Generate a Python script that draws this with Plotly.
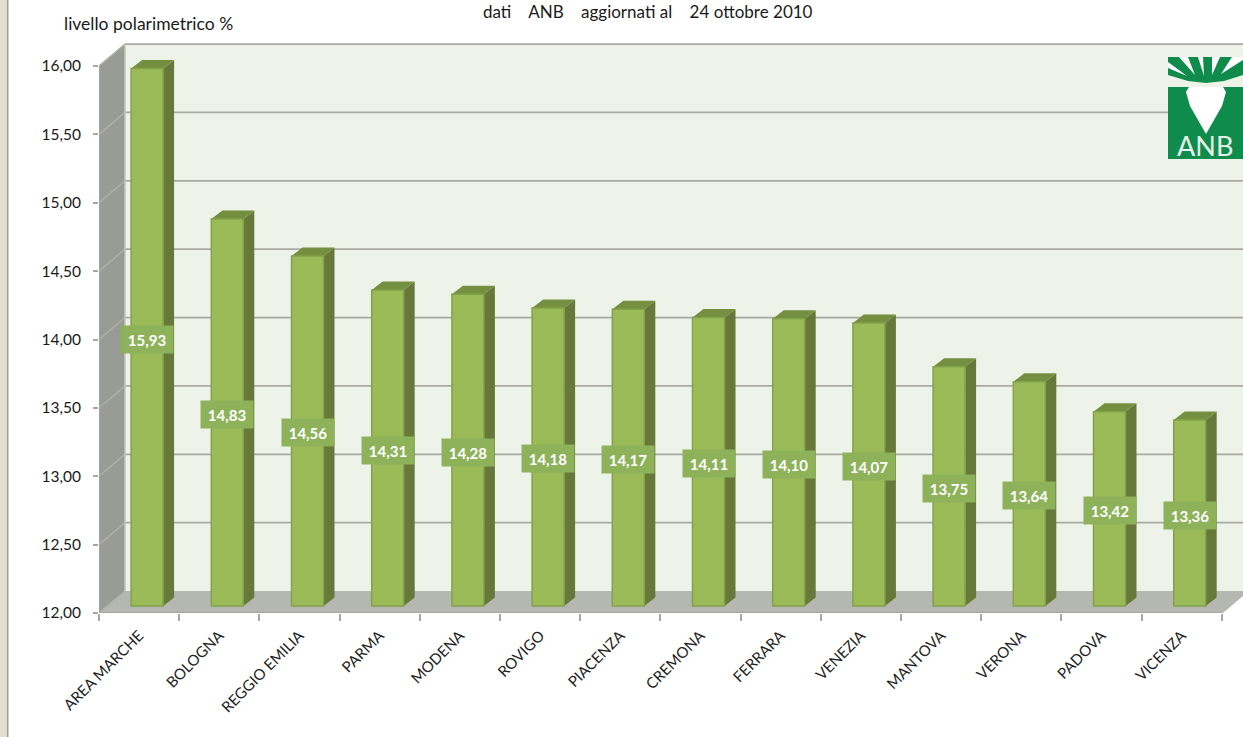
import plotly.graph_objects as go

categories = ["AREA MARCHE", "BOLOGNA", "REGGIO EMILIA", "PARMA", "MODENA", "ROVIGO", "PIACENZA",
              "CREMONA", "FERRARA", "VENEZIA", "MANTOVA", "VERONA", "PADOVA", "VICENZA"]
values = [15.93, 14.83, 14.56, 14.31, 14.28, 14.18, 14.17, 14.11, 14.10, 14.07, 13.75, 13.64, 13.42, 13.36]
y_ticks = [12.0, 12.5, 13.0, 13.5, 14.0, 14.5, 15.0, 15.5, 16.0]
y_tick_labels = ["12,00", "12,50", "13,00", "13,50", "14,00", "14,50", "15,00", "15,50", "16,00"]

W, H = 1243, 737
L, B = 99, 124
PX_X = 80.2          # pixels per category
PX_Y = 136.75        # pixels per unit
DX, DY = 26 / PX_X, 22 / PX_Y    # wall depth
BX, BY = 8 / PX_X, 7 / PX_Y      # bar offset from the front edge
SX, SY = 11 / PX_X, 8.5 / PX_Y   # bar depth
BAR_W = 32 / PX_X
X0, X1 = -0.5, 13.5
Y0 = 12.0
XR = X0 + (W - L) / PX_X
YR = Y0 + (H - B) / PX_Y
BASE = Y0 + BY

GRID = "#A8AAA3"
shapes = []


def poly(pts, fill, line=None, width=0, layer="below"):
    path = "M " + " L ".join(f"{x:.4f},{y:.4f}" for x, y in pts) + " Z"
    shapes.append(dict(type="path", xref="x", yref="y", path=path, fillcolor=fill, layer=layer,
                       line=dict(color=line or fill, width=width)))


def seg(x0, y0, x1, y1, color=GRID, width=2):
    shapes.append(dict(type="path", xref="x", yref="y", path=f"M {x0:.4f},{y0:.4f} L {x1:.4f},{y1:.4f}",
                       layer="below", line=dict(color=color, width=width)))


def ppoly(pts, fill):
    sx, sy = W - L, H - B
    path = "M " + " L ".join(f"{(x - L) / sx:.5f},{1 - y / sy:.5f}" for x, y in pts) + " Z"
    shapes.append(dict(type="path", xref="paper", yref="paper", path=path, fillcolor=fill,
                       line=dict(width=0), layer="above"))


# walls and floor
poly([(X0 + DX, Y0 + DY), (X1 + DX, Y0 + DY), (X1 + DX, 16 + DY), (X0 + DX, 16 + DY)], "#EEF3EA")
poly([(X0, Y0), (X0 + DX, Y0 + DY), (X0 + DX, 16 + DY), (X0, 16)], "#999B95")
poly([(X0, Y0), (X0 + DX, Y0 + DY), (X1 + DX, Y0 + DY), (X1, Y0)], "#B5B7B1")
for t in y_ticks:
    seg(X0, t, X0 + DX, t + DY, "#AEB0A9", 1.5)
    if t > Y0:
        seg(X0 + DX, t + DY, X1 + DX, t + DY, GRID, 1.75)
seg(X0 + DX, Y0 + DY, X0 + DX, 16 + DY, "#C4C6BF", 1.5)
seg(X0, Y0, X0, 16, "#A5A7A0", 1.5)
seg(X0, Y0, X1, Y0, "#A5A7A0", 2)
seg(X1, Y0, X1 + DX, Y0 + DY, "#B5B7B1", 1.5)

# bar depth faces
for i, v in enumerate(values):
    left = i - BAR_W / 2 + BX
    right = left + BAR_W
    top = v + BY
    poly([(right, BASE), (right + SX, BASE + SY), (right + SX, top + SY), (right, top)], "#66793A")
    poly([(left, top), (left + SX, top + SY), (right + SX, top + SY), (right, top)], "#748F3F")

# outer page strip
ppoly([(0, 0), (7, 0), (7, H), (0, H)], "#E3DFCD")
ppoly([(7, 0), (8.5, 0), (8.5, H), (7, H)], "#9C9C94")

# logo
LG = "#0F8C4C"
ppoly([(1168, 57), (1243, 57), (1243, 75), (1224, 81), (1206, 83), (1188, 81), (1168, 75)], LG)
ppoly([(1168, 87), (1243, 87), (1243, 159), (1168, 159)], LG)
ppoly([(1168, 62), (1168, 68), (1187, 76)], "#FFFFFF")
ppoly([(1179, 57), (1188, 57), (1195, 75)], "#FFFFFF")
ppoly([(1198, 57), (1203, 57), (1204, 76)], "#FFFFFF")
ppoly([(1212, 57), (1220, 57), (1212, 75)], "#FFFFFF")
ppoly([(1232, 57), (1243, 57), (1243, 60), (1221, 74)], "#FFFFFF")
ppoly([(1189, 87), (1223, 87), (1226, 92), (1222, 106), (1206, 134), (1190, 106), (1186, 92)], "#FFFFFF")

fig = go.Figure(go.Bar(
    x=categories,
    y=[v - Y0 for v in values],
    base=BASE,
    width=BAR_W,
    offset=BX - BAR_W / 2,
    marker=dict(color="#9BBB59", line=dict(color="#82A34B", width=1.5)),
    hoverinfo="skip",
))

annotations = [
    dict(x=i + BX, y=(BASE + v + BY) / 2, xref="x", yref="y", yshift=-2, text=f"{v:.2f}".replace(".", ","),
         showarrow=False, width=50, height=25, bgcolor="#8DB25A", borderpad=1,
         font=dict(family="Lato", size=15, color="#FFFFFF", weight="bold"))
    for i, v in enumerate(values)
]
annotations += [
    dict(x=(62 - L) / (W - L), y=1 - 24 / (H - B), xref="paper", yref="paper", xanchor="left", yanchor="middle",
         text="livello polarimetrico %", showarrow=False, font=dict(family="Lato", size=17.5, color="#1A1A1A")),
    dict(x=(648 - L) / (W - L), y=1 - 11.5 / (H - B), xref="paper", yref="paper", xanchor="center", yanchor="middle",
         text="dati\u00a0\u00a0\u00a0\u00a0ANB\u00a0\u00a0\u00a0\u00a0aggiornati al\u00a0\u00a0\u00a0\u00a024 ottobre 2010",
         showarrow=False, font=dict(family="Lato", size=17, color="#1A1A1A")),
    dict(x=(1205 - L) / (W - L), y=1 - 146 / (H - B), xref="paper", yref="paper", xanchor="center", yanchor="middle",
         text="ANB", showarrow=False, font=dict(family="Lato", size=27, color="#E6F2EA")),
]

fig.update_layout(
    width=W, height=H,
    margin=dict(l=L, r=0, t=0, b=B, autoexpand=False),
    paper_bgcolor="#FFFFFF", plot_bgcolor="#FFFFFF",
    showlegend=False, shapes=shapes, annotations=annotations,
    xaxis=dict(type="category", categoryorder="array", categoryarray=categories, range=[X0, XR],
               tickson="boundaries", ticks="outside", ticklen=7, tickcolor="#A5A7A0", tickwidth=1.5,
               tickangle=-45, showgrid=False, zeroline=False, showline=False, ticklabelstandoff=10,
               tickfont=dict(family="Lato", size=15, color="#222222")),
    yaxis=dict(range=[Y0, YR], tickvals=y_ticks, ticktext=y_tick_labels, ticks="outside", ticklen=5,
               tickcolor="#A5A7A0", tickwidth=1.5, showgrid=False, zeroline=False, showline=False,
               ticklabelstandoff=9, tickfont=dict(family="Lato", size=15.5, color="#1A1A1A")),
)

fig.write_html("out.html", config=dict(displayModeBar=False), post_script="document.body.style.margin='0';")
